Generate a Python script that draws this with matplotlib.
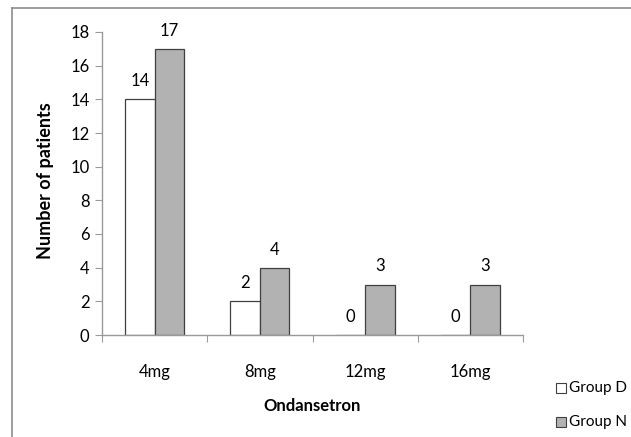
import matplotlib.pyplot as plt
from matplotlib.patches import Rectangle
import numpy as np

plt.rcParams['font.family'] = ['Lato', 'DejaVu Sans']

# dose categories and patient counts
DOSES = ['4mg', '8mg', '12mg', '16mg']
GROUP_D = [14, 2, 0, 0]
GROUP_N = [17, 4, 3, 3]
Y_TICKS = [0, 2, 4, 6, 8, 10, 12, 14, 16, 18]


def bar_chart():
    fig = plt.figure(figsize=(6.31, 4.37), dpi=100)
    W, H = 631, 437

    # outer chart frame (grey line, cut off at right and bottom)
    fig.add_artist(plt.Line2D([12 / W, 12 / W], [0, 1 - 8 / H], color='#8c8c8c', lw=1.2,
                              transform=fig.transFigure))
    fig.add_artist(plt.Line2D([12 / W, 1], [1 - 8 / H, 1 - 8 / H], color='#8c8c8c', lw=1.2,
                              transform=fig.transFigure))

    ax = fig.add_axes([102 / W, 1 - 335 / H, (523 - 102) / W, (335 - 32) / H])
    x = np.arange(len(DOSES))
    w = 0.28
    ax.bar(x - w / 2, GROUP_D, w, color='white', edgecolor='#404040', linewidth=0.9)
    ax.bar(x + w / 2, GROUP_N, w, color='#b2b2b2', edgecolor='#404040', linewidth=0.9)

    for i in range(len(DOSES)):
        ax.text(x[i] - w / 2, GROUP_D[i] + 0.6, str(GROUP_D[i]), ha='center', va='bottom', fontsize=12)
        ax.text(x[i] + w / 2, GROUP_N[i] + 0.6, str(GROUP_N[i]), ha='center', va='bottom', fontsize=12)

    ax.set_xlim(-0.5, len(DOSES) - 0.5)
    ax.set_ylim(0, 18)
    ax.set_yticks(Y_TICKS)
    ax.set_xticks(np.arange(len(DOSES) + 1) - 0.5, minor=False)
    ax.set_xticklabels([])
    ax.set_xticks(x, minor=True)
    ax.set_xticklabels(DOSES, minor=True)
    ax.tick_params(axis='x', which='minor', length=0, pad=21, labelsize=12)
    ax.tick_params(axis='x', which='major', length=5, color='#9a9a9a', direction='out')
    ax.tick_params(axis='y', length=5, color='#9a9a9a', direction='out', labelsize=12, pad=4)

    for s in ['top', 'right']:
        ax.spines[s].set_visible(False)
    for s in ['left', 'bottom']:
        ax.spines[s].set_color('#9a9a9a')
        ax.spines[s].set_linewidth(1.0)

    fig.text(312 / W, 1 - 406 / H, 'Ondansetron', ha='center', va='center', fontsize=12, fontweight='bold')
    fig.text(46 / W, 1 - 181 / H, 'Number of patients', ha='center', va='center', rotation=90,
             fontsize=13, fontweight='bold')

    # legend
    for yy, fc, lab in [(388, 'white', 'Group D'), (422, '#b2b2b2', 'Group N')]:
        fig.add_artist(Rectangle((556 / W, 1 - (yy + 5) / H), 10 / W, 10 / H, facecolor=fc,
                                 edgecolor='#404040', linewidth=0.8, transform=fig.transFigure))
        fig.text(569 / W, 1 - yy / H, lab, ha='left', va='center', fontsize=11)

    fig.savefig('out.png', dpi=100)


if __name__ == '__main__':
    bar_chart()
